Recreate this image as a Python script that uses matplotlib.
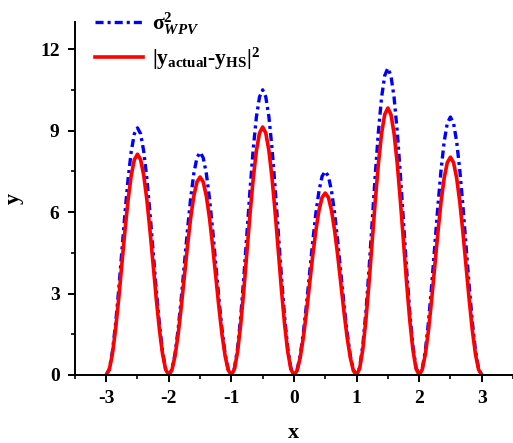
import numpy as np
import matplotlib
matplotlib.use("Agg")
import matplotlib.pyplot as plt

# x grid read at 0.05 steps
x_vals = np.round(np.arange(-3.0, 3.0001, 0.05), 2)

# |y_actual - y_HS|^2 (red)
err_sq = [
    0, 0.20, 0.78, 1.68, 2.81, 4.07, 5.32, 6.45, 7.35, 7.93, 8.13, 7.93, 7.35, 6.45, 5.32, 4.07, 2.81, 1.68, 0.78, 0.20,
    0, 0.18, 0.70, 1.50, 2.52, 3.65, 4.77, 5.79, 6.59, 7.11, 7.29, 7.11, 6.59, 5.79, 4.77, 3.65, 2.52, 1.50, 0.70, 0.18,
    0, 0.22, 0.87, 1.88, 3.15, 4.57, 5.98, 7.25, 8.26, 8.91, 9.13, 8.91, 8.26, 7.25, 5.98, 4.57, 3.15, 1.88, 0.87, 0.22,
    0, 0.16, 0.64, 1.38, 2.31, 3.35, 4.39, 5.32, 6.06, 6.54, 6.70, 6.54, 6.06, 5.32, 4.39, 3.35, 2.31, 1.38, 0.64, 0.16,
    0, 0.24, 0.94, 2.03, 3.40, 4.92, 6.43, 7.80, 8.89, 9.59, 9.83, 9.59, 8.89, 7.80, 6.43, 4.92, 3.40, 2.03, 0.94, 0.24,
    0, 0.20, 0.77, 1.65, 2.77, 4.01, 5.25, 6.37, 7.25, 7.82, 8.02, 7.82, 7.25, 6.37, 5.25, 4.01, 2.77, 1.65, 0.77, 0.20,
    0,
]

# sigma^2_WPV (blue dash-dot)
sigma_wpv = [
    0, 0.22, 0.87, 1.88, 3.14, 4.55, 5.96, 7.22, 8.23, 8.88, 9.10, 8.88, 8.23, 7.22, 5.96, 4.55, 3.14, 1.88, 0.87, 0.22,
    0, 0.20, 0.78, 1.69, 2.83, 4.10, 5.37, 6.51, 7.42, 8.00, 8.20, 8.00, 7.42, 6.51, 5.37, 4.10, 2.83, 1.69, 0.78, 0.20,
    0, 0.26, 1.00, 2.16, 3.63, 5.25, 6.87, 8.34, 9.50, 10.24, 10.50, 10.24, 9.50, 8.34, 6.87, 5.25, 3.63, 2.16, 1.00, 0.26,
    0, 0.18, 0.72, 1.55, 2.59, 3.75, 4.91, 5.95, 6.78, 7.32, 7.50, 7.32, 6.78, 5.95, 4.91, 3.75, 2.59, 1.55, 0.72, 0.18,
    0, 0.28, 1.08, 2.33, 3.90, 5.65, 7.40, 8.97, 10.22, 11.02, 11.30, 11.02, 10.22, 8.97, 7.40, 5.65, 3.90, 2.33, 1.08, 0.28,
    0, 0.23, 0.91, 1.96, 3.28, 4.75, 6.22, 7.54, 8.59, 9.27, 9.50, 9.27, 8.59, 7.54, 6.22, 4.75, 3.28, 1.96, 0.91, 0.23,
    0,
]

x_ticks = [-3, -2, -1, 0, 1, 2, 3]
y_ticks = [0, 3, 6, 9, 12]

plt.rcParams.update({
    'font.family': 'Liberation Serif',
    'font.weight': 'bold',
    'axes.unicode_minus': False,
    'mathtext.fontset': 'custom',
    'mathtext.rm': 'Liberation Serif:bold',
    'mathtext.it': 'Liberation Serif:bold:italic',
    'mathtext.bf': 'Liberation Serif:bold',
    'lines.scale_dashes': False,
})

fig = plt.figure(figsize=(5.13, 4.43), dpi=100)
ax = fig.add_axes([0.146, 0.1535, 0.854, 0.797])

ax.plot(x_vals, sigma_wpv, color='#0000ff', lw=2.4, linestyle=(0, (5.8, 2.9, 2.2, 2.9)),
        label=r'$\mathrm{\sigma}^{\mathrm{2}}_{WPV}$')
ax.plot(x_vals, err_sq, color='#ff0000', lw=2.6,
        label=r'$|\mathrm{y}_{\mathrm{actual}}\text{-}\mathrm{y}_{\mathrm{HS}}|^{\mathrm{2}}$')

ax.set_xlim(-3.5, 3.5)
ax.set_ylim(0, 13)
ax.set_xticks(x_ticks)
ax.set_yticks(y_ticks)
ax.set_xticks(np.arange(-3.5, 3.51, 0.5), minor=True)
ax.set_yticks(np.arange(0, 13.1, 1.5), minor=True)
ax.tick_params(which='major', direction='out', length=5, width=1.4, labelsize=14, pad=6)
ax.tick_params(which='minor', direction='out', length=3, width=1.2)
for s in ['top', 'right']:
    ax.spines[s].set_visible(False)
for s in ['left', 'bottom']:
    ax.spines[s].set_linewidth(1.4)

ax.set_xlabel('x', fontsize=16, fontweight='bold', labelpad=11)
ax.set_ylabel('y', fontsize=16, fontweight='bold', labelpad=12)

ax.legend(loc='upper left', bbox_to_anchor=(0.169, 0.996), bbox_transform=fig.transFigure,
          frameon=False, fontsize=15.5, handlelength=2.2, handletextpad=0.45,
          labelspacing=0.4, borderaxespad=0)

fig.savefig('out.png', dpi=100)
